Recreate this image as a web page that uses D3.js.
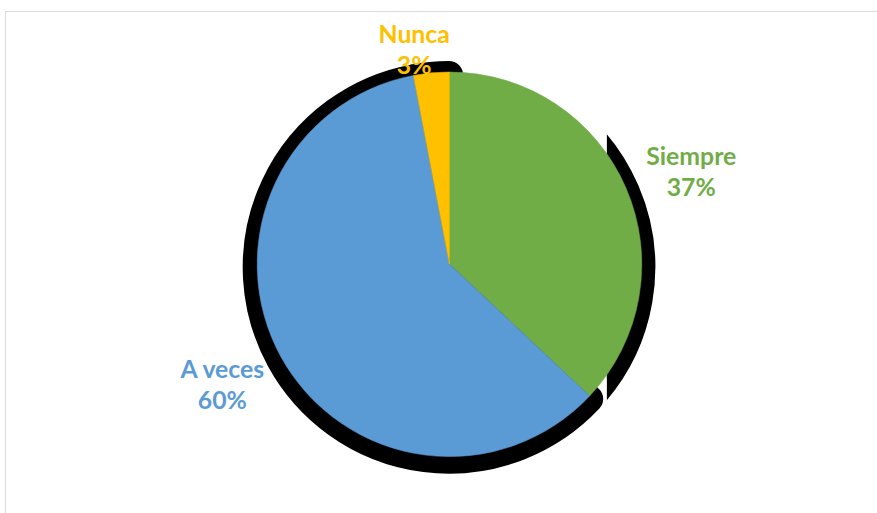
<!DOCTYPE html>
<html>
<head>
<meta charset="utf-8">
<script src="https://cdn.jsdelivr.net/npm/d3@7"></script>
<style>
  html, body { margin: 0; padding: 0; background: #fff; }
  svg { display: block; }
  .lbl { font-family: Lato, "Open Sans", sans-serif; font-weight: 700; font-size: 24.8px; }
</style>
</head>
<body>
<svg id="chart" width="877" height="513"></svg>
<script>
// Survey answers and their shares
const categories = ["Siempre", "A veces", "Nunca"];
const values = [37, 60, 3];
const percentLabels = ["37%", "60%", "3%"];
const sliceColors = ["#70AD47", "#5B9BD5", "#FFC000"];

// Layout
const W = 877, H = 513;
const cx = 449.5, cy = 264.3, r = 192.3;
const shadowSpread = 14, shadowDrop = 3;
const labelRadius = 258, lineGap = 31;
const labelNudge = [[5, 10], [-1, -4], [-11, 0]];
const labelTop = 49;

const svg = d3.select("#chart");

// chart area frame
svg.append("rect")
  .attr("x", 5.5).attr("y", 11.5)
  .attr("width", W).attr("height", H)
  .attr("fill", "none").attr("stroke", "#d9d9d9").attr("stroke-width", 1);

const pie = d3.pie().sort(null).value(d => d);
const arcs = pie(values);
const arc = d3.arc().innerRadius(0).outerRadius(r);

// the first slice's shadow only shows along its outer rim
svg.append("defs").append("clipPath").attr("id", "rimClip")
  .append("rect")
  .attr("x", r * 0.821).attr("y", -r * 2)
  .attr("width", r * 2).attr("height", r * 4);

const g = svg.append("g").attr("transform", `translate(${cx},${cy})`);

// black drop shadows, spread around each slice
const shadows = g.append("g").attr("transform", `translate(-0.5,${shadowDrop})`);
shadows.selectAll("path")
  .data(arcs)
  .join("path")
  .attr("d", arc)
  .attr("fill", "#000")
  .attr("stroke", "#000")
  .attr("stroke-width", shadowSpread * 2)
  .attr("stroke-linejoin", "round")
  .attr("clip-path", (d, i) => i === 0 ? "url(#rimClip)" : null);

// slices
g.selectAll("path.slice")
  .data(arcs)
  .join("path")
  .attr("class", "slice")
  .attr("d", arc)
  .attr("fill", (d, i) => sliceColors[i])
  .attr("stroke", (d, i) => sliceColors[i])
  .attr("stroke-width", 0.5);

// data labels: category name over percentage
arcs.forEach((d, i) => {
  const a = (d.startAngle + d.endAngle) / 2;
  let x = cx + labelRadius * Math.sin(a) + labelNudge[i][0];
  let y = cy - labelRadius * Math.cos(a) + labelNudge[i][1];
  if (y < labelTop) y = labelTop;
  const t = svg.append("text")
    .attr("class", "lbl")
    .attr("text-anchor", "middle")
    .attr("fill", sliceColors[i]);
  t.append("tspan").attr("x", x).attr("y", y - lineGap / 2 + 9).text(categories[i]);
  t.append("tspan").attr("x", x).attr("y", y + lineGap / 2 + 9).text(percentLabels[i]);
});
</script>
</body>
</html>
